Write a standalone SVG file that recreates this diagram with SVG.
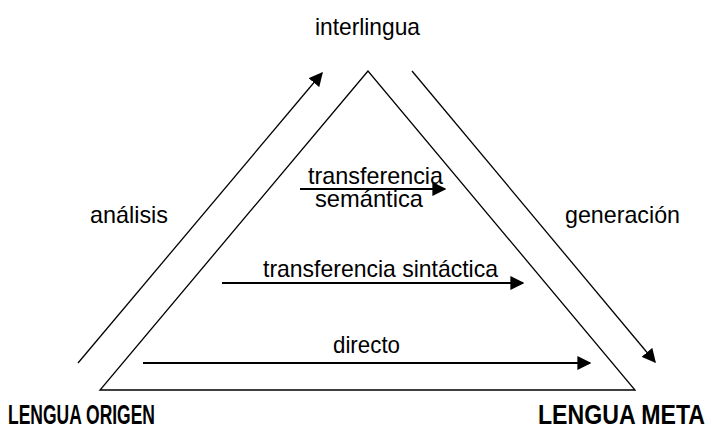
<svg xmlns="http://www.w3.org/2000/svg" width="712" height="430" viewBox="0 0 712 430">
<defs>
<marker id="ah2" viewBox="0 0 10 10" refX="9" refY="5" markerWidth="14" markerHeight="14" markerUnits="userSpaceOnUse" orient="auto"><path d="M0,0 L10,5 L0,10 Z" fill="#000"/></marker>
</defs>
<style>
.t{font-family:"Liberation Sans Narrow","Liberation Sans",Arial,sans-serif;font-size:24px;fill:#000}
.b{font-family:"Liberation Sans Narrow","Liberation Sans",Arial,sans-serif;font-size:27px;font-weight:bold;fill:#000}
.l{stroke:#000;stroke-width:1.3;fill:none}
.a{stroke:#000;stroke-width:2;fill:none}
</style>
<rect width="712" height="430" fill="#fff"/>
<g id="triangle">
<path class="l" d="M368,71 L100,390 L635,390 Z" stroke-width="2"/>
</g>
<g id="connectors">
<line class="l" x1="78" y1="363" x2="322" y2="73" marker-end="url(#ah2)"/>
<line class="l" x1="412" y1="71" x2="655" y2="362" marker-end="url(#ah2)"/>
<line class="a" x1="300" y1="189" x2="445" y2="189" marker-end="url(#ah2)"/>
<line class="a" x1="222" y1="283" x2="523" y2="283" marker-end="url(#ah2)"/>
<line class="a" x1="143" y1="363" x2="590" y2="363" marker-end="url(#ah2)"/>
</g>
<g id="interlingua"><text class="t" x="315" y="35" textLength="105" lengthAdjust="spacingAndGlyphs">interlingua</text></g>
<g id="analisis"><text class="t" x="90" y="223" textLength="78" lengthAdjust="spacingAndGlyphs">análisis</text></g>
<g id="generacion"><text class="t" x="565" y="223" textLength="115" lengthAdjust="spacingAndGlyphs">generación</text></g>
<g id="semantica">
<text class="t" x="308" y="184" textLength="135" lengthAdjust="spacingAndGlyphs">transferencia</text>
<text class="t" x="315" y="207" textLength="108" lengthAdjust="spacingAndGlyphs">semántica</text>
</g>
<g id="sintactica"><text class="t" x="263" y="277" textLength="235" lengthAdjust="spacingAndGlyphs">transferencia sintáctica</text></g>
<g id="directo"><text class="t" x="333" y="353" textLength="67" lengthAdjust="spacingAndGlyphs">directo</text></g>
<g id="origen"><text class="b" x="8" y="424" textLength="147" lengthAdjust="spacingAndGlyphs">LENGUA ORIGEN</text></g>
<g id="meta"><text class="b" x="538" y="424" textLength="167" lengthAdjust="spacingAndGlyphs">LENGUA META</text></g>
</svg>
